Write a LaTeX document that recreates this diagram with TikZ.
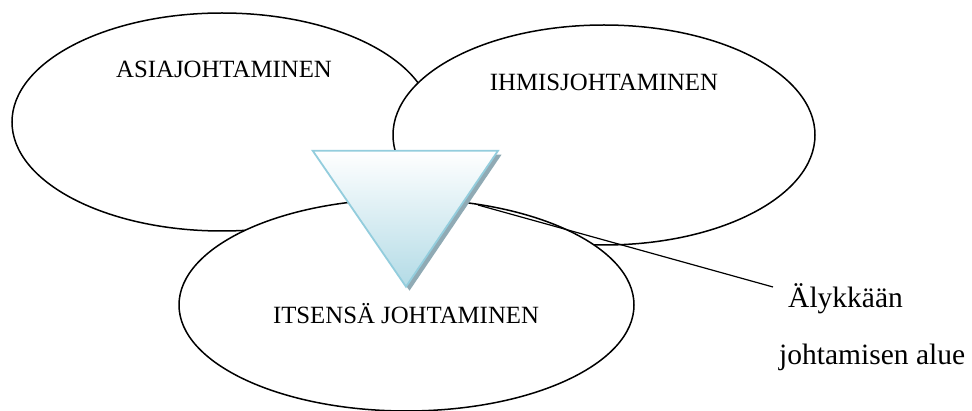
\documentclass[tikz,border=0pt]{standalone}
\usepackage{fontspec}
\setmainfont{Liberation Serif}
\usetikzlibrary{shapes.geometric}
\definecolor{triborder}{HTML}{93CDDD}
\definecolor{trifill}{HTML}{B3DBE6}
\definecolor{trishadow}{HTML}{90AAB4}
\tikzset{
  oval/.style={ellipse, draw=black, fill=white, line width=1.5pt, inner sep=0pt, outer sep=0pt},
  ovallabel/.style={anchor=base, inner sep=0pt, font=\fontsize{24.8}{28}\selectfont},
  calltext/.style={anchor=base west, inner sep=0pt, font=\fontsize{29.5}{34}\selectfont},
  callline/.style={draw=black, line width=1.2pt},
}
\begin{document}
\begin{tikzpicture}[x=1pt, y=-1pt]
\useasboundingbox (0,0) rectangle (972,411);
% ellipses
\node[oval, minimum width=420pt, minimum height=218pt] (A) at (222,122) {};
\node[oval, minimum width=422pt, minimum height=220pt] (B) at (604,135) {};
\node[oval, minimum width=455pt, minimum height=212pt] (C) at (406.5,305) {};
% triangle with shadow
\coordinate (tl) at (312.7,150.7);
\coordinate (tr) at (498,150.7);
\coordinate (tb) at (406,286.7);
\fill[trishadow] ([shift={(3.5,4)}]tl) -- ([shift={(3.5,4)}]tr) -- ([shift={(3.5,4)}]tb) -- cycle;
\shade[top color=white, bottom color=trifill, draw=triborder, line width=1.8pt, line join=miter]
  (tl) -- (tr) -- (tb) -- cycle;
% labels
\node[ovallabel] (la) at (224,78) {ASIAJOHTAMINEN};
\node[ovallabel] (lb) at (604,91) {IHMISJOHTAMINEN};
\node[ovallabel] (lc) at (406,324) {ITSENSÄ JOHTAMINEN};
% callout
\node[calltext] (aly) at (788,308) {Älykkään};
\node[calltext] (alue) at (779,365) {johtamisen alue};
\coordinate (cs) at (478,205);
\coordinate (ce) at (773,287);
\draw[callline] (cs) -- (ce);
\end{tikzpicture}
\end{document}
